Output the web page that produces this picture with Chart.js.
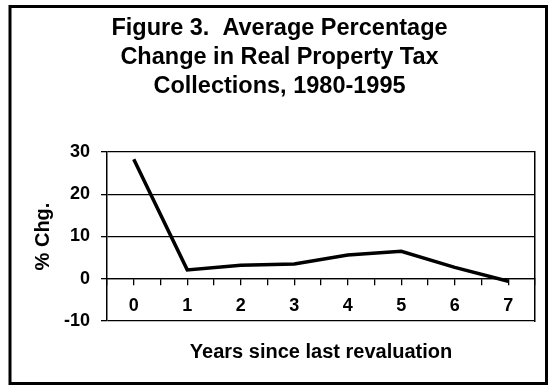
<!DOCTYPE html>
<html>
<head>
<meta charset="utf-8">
<script src="https://cdn.jsdelivr.net/npm/chart.js@4/dist/chart.umd.min.js"></script>
<style>
  html, body { margin: 0; padding: 0; background: #fff; }
  #wrap { width: 552px; height: 387px; }
</style>
</head>
<body>
<div id="wrap"><canvas id="myGrafico" width="552" height="387"></canvas></div>
<script>
// data
var years = [0, 1, 2, 3, 4, 5, 6, 7];
var pctChange = [28.3, 2.1, 3.2, 3.5, 5.6, 6.5, 2.7, -0.6];
var yTicks = [-10, 0, 10, 20, 30];
var titleLines = ["Figure 3.  Average Percentage", "Change in Real Property Tax", "Collections, 1980-1995"];
var xTitle = "Years since last revaluation";
var yTitle = "% Chg.";

var points = [];
for (let i = 0; i < years.length; i++) {
    points.push({x: years[i], y: pctChange[i]});
}

var FONT = "'Liberation Sans', Arial, sans-serif";

// frame round the whole figure
var framePlugin = {
    id: 'frame',
    afterDraw: function(chart) {
        var c = chart.ctx;
        c.save();
        c.strokeStyle = '#000';
        c.lineWidth = 3;
        c.strokeRect(10, 6.5, 536.5, 377);
        c.restore();
    }
};

var ctx = document.getElementById('myGrafico').getContext('2d');
var chart = new Chart(ctx, {
    type: 'line',
    data: {
        datasets: [{
            label: 'pct',
            data: points,
            borderColor: '#000',
            borderWidth: 3.5,
            pointRadius: 0,
            tension: 0,
            fill: false
        }]
    },
    options: {
        responsive: false,
        animation: false,
        layout: { padding: { left: 24, right: 17, top: 0, bottom: 10 } },
        plugins: {
            legend: { display: false },
            tooltip: { enabled: false },
            title: {
                display: true,
                text: titleLines,
                color: '#000',
                font: { family: FONT, size: 23.5, weight: 'bold', lineHeight: 1.234 },
                padding: { top: 14, bottom: 51 }
            }
        },
        scales: {
            x: {
                type: 'linear',
                position: { y: 0 },
                min: -0.5,
                max: 7.5,
                afterFit: function(s) { s.height = 0; },
                ticks: {
                    stepSize: 0.5,
                    autoSkip: false,
                    maxRotation: 0,
                    padding: 10,
                    color: '#000',
                    font: { family: FONT, size: 18, weight: 'bold' },
                    callback: function(v) { return Number.isInteger(v) && v >= 0 ? String(v) : ''; }
                },
                grid: { drawOnChartArea: false, drawTicks: true, tickLength: 6, color: '#000', lineWidth: 1.3 },
                border: { display: true, color: '#000', width: 1.3 }
            },
            x2: {
                type: 'linear',
                position: 'bottom',
                min: -0.5,
                max: 7.5,
                ticks: { display: false },
                grid: { display: false, drawTicks: false },
                border: { display: false },
                title: {
                    display: true,
                    text: xTitle,
                    color: '#000',
                    font: { family: FONT, size: 20, weight: 'bold', lineHeight: 1.2 },
                    padding: { top: 19, bottom: 13 }
                }
            },
            y: {
                position: 'left',
                min: -10,
                max: 30,
                afterFit: function(s) { s.width = 83; },
                afterBuildTicks: function(s) { s.ticks = yTicks.map(function(v) { return {value: v}; }); },
                ticks: {
                    padding: 11,
                    color: '#000',
                    font: { family: FONT, size: 18, weight: 'bold' }
                },
                grid: { color: '#000', lineWidth: 1.3, tickLength: 6 },
                border: { display: true, color: '#000', width: 1.5 },
                title: {
                    display: true,
                    text: yTitle,
                    color: '#000',
                    font: { family: FONT, size: 20, weight: 'bold', lineHeight: 1.2 },
                    padding: { top: 7, bottom: 0 }
                }
            },
            y2: {
                position: 'right',
                min: -10,
                max: 30,
                afterFit: function(s) { s.width = 0; },
                ticks: { display: false },
                grid: { display: false, drawTicks: false },
                border: { display: true, color: '#000', width: 1.5 }
            }
        }
    },
    plugins: [framePlugin]
});
</script>
</body>
</html>
